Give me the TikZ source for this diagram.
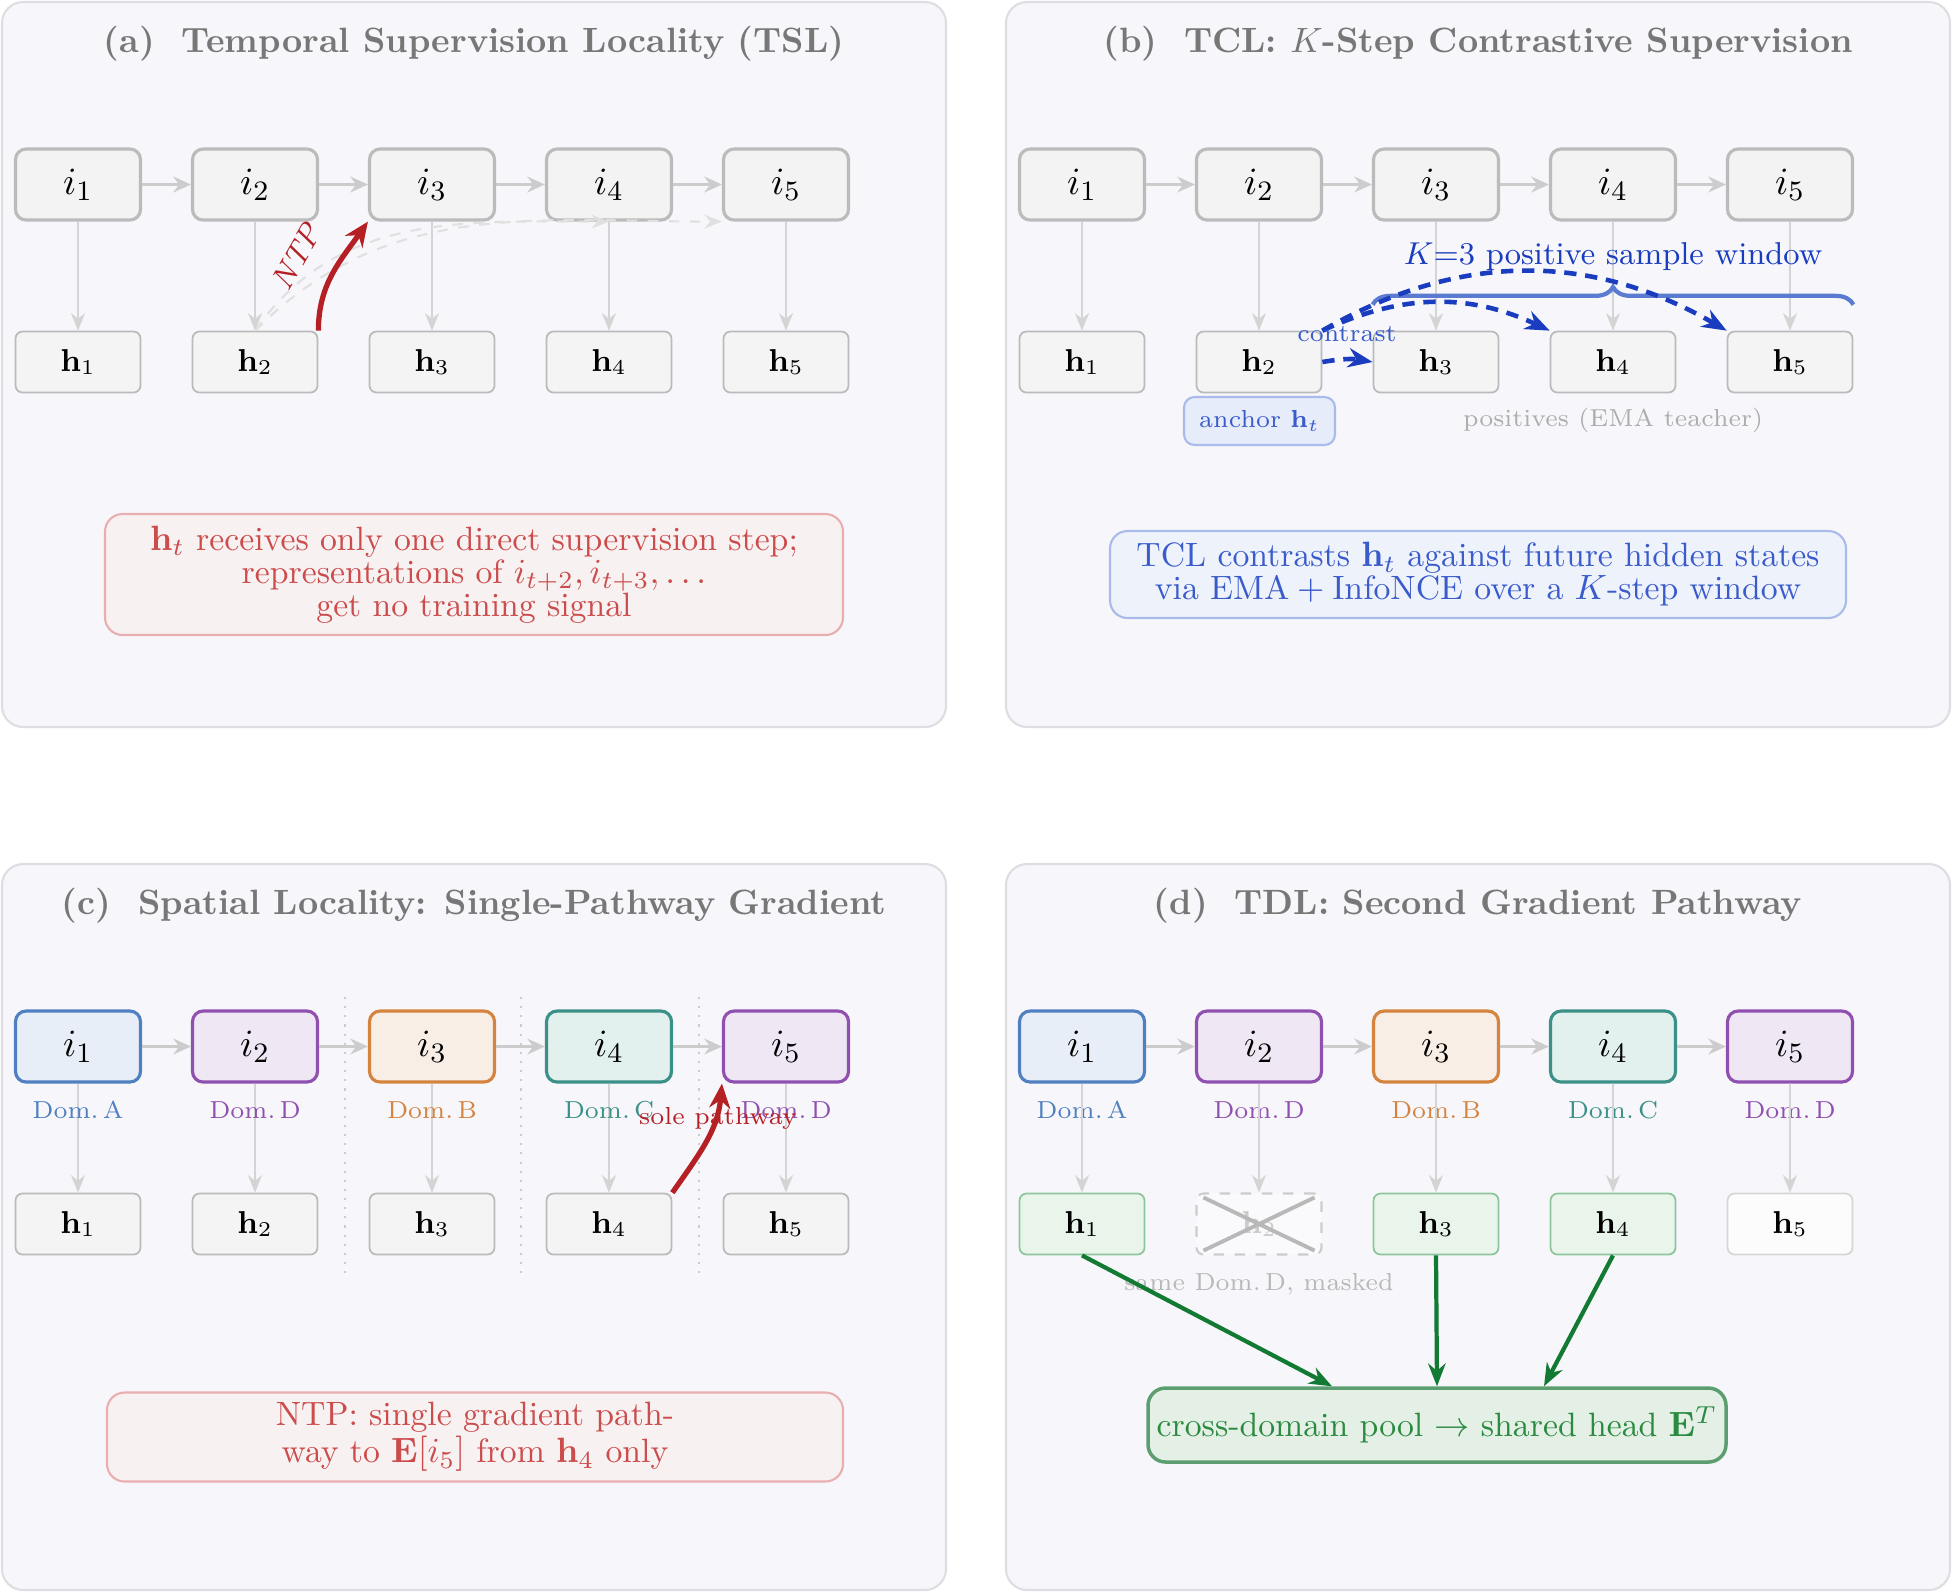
\documentclass[tikz,border=0pt]{standalone}
\usepackage{tikz}
\usetikzlibrary{arrows.meta,calc,decorations.pathreplacing}

\definecolor{panelbg}{HTML}{F7F7FB}
\definecolor{panelline}{HTML}{DEDEE2}
\definecolor{titlegray}{HTML}{777777}
\definecolor{boxline}{HTML}{BBBBBB}
\definecolor{boxfill}{HTML}{F3F3F3}
\definecolor{hfill}{HTML}{F4F4F4}
\definecolor{flowgray}{HTML}{CCCCCC}
\definecolor{ghostgray}{HTML}{E0E0E0}
\definecolor{softgray}{HTML}{ADADAD}
\definecolor{ntpred}{HTML}{B52025}
\definecolor{notered}{HTML}{CC4B4B}
\definecolor{notefill}{HTML}{F8F1F2}
\definecolor{noteline}{HTML}{E9AEB0}
\definecolor{tclblue}{HTML}{1A3CBF}
\definecolor{braceblue}{HTML}{5A7BD0}
\definecolor{textblue}{HTML}{3A5BCB}
\definecolor{bluefill}{HTML}{EEF2FB}
\definecolor{blueline}{HTML}{A9BBEA}
\definecolor{anchorfill}{HTML}{E6ECFA}
\definecolor{colA}{HTML}{5080C0}
\definecolor{fillA}{HTML}{E7EEF7}
\definecolor{colB}{HTML}{D4843F}
\definecolor{fillB}{HTML}{F8EEE6}
\definecolor{colC}{HTML}{3B9088}
\definecolor{fillC}{HTML}{E2F0EE}
\definecolor{colD}{HTML}{9050B0}
\definecolor{fillD}{HTML}{F0E7F4}
\definecolor{poolgreen}{HTML}{127A32}
\definecolor{pooltext}{HTML}{2A8A40}
\definecolor{poolline}{HTML}{5C9E70}
\definecolor{poolfill}{HTML}{E4F0E6}
\definecolor{hgreenfill}{HTML}{E9F4EB}
\definecolor{hgreenline}{HTML}{8DC59C}

\tikzset{
  panel/.style={draw=panelline, fill=panelbg, line width=0.6pt, rounded corners=6pt},
  paneltitle/.style={text=titlegray, font=\bfseries},
  ibox/.style={draw=boxline, fill=boxfill, line width=0.9pt, rounded corners=3pt,
    minimum width=1.25cm, minimum height=0.71cm, inner sep=0pt, font=\fontsize{11}{13}\selectfont},
  hbox/.style={draw=boxline, fill=hfill, line width=0.5pt, rounded corners=2pt,
    minimum width=1.25cm, minimum height=0.61cm, inner sep=0pt, font=\small},
  flow/.style={draw=flowgray, line width=0.8pt, -{Stealth[length=5pt,width=4.5pt]}},
  down/.style={draw=flowgray!85, line width=0.5pt, -{Stealth[length=5pt,width=4pt]}},
  ghost/.style={draw=ghostgray, line width=0.6pt, dashed, -{Stealth[length=5pt,width=4pt]}},
  ntp/.style={draw=ntpred, line width=1.5pt, -{Stealth[length=7pt,width=6pt]}},
  contrast/.style={draw=tclblue, line width=1.3pt, dash pattern=on 3.5pt off 2.5pt,
    -{Stealth[length=7pt,width=5.5pt]}},
  pathway/.style={draw=poolgreen, line width=1.2pt, -{Stealth[length=6.5pt,width=5pt]}},
  note/.style={rounded corners=5pt, line width=0.6pt, align=center, inner sep=0pt,
    font=\fontsize{9.6}{9.4}\selectfont},
  domlabel/.style={font=\scriptsize},
}

\begin{document}
\begin{tikzpicture}
  \useasboundingbox (0,0) rectangle (19.52,-15.92);

  \begin{scope}
    \draw[panel] (0.02,-0.02) rectangle (9.46,-7.27);
    \node[paneltitle] (a-title) at (4.74,-0.44) {(a)~~Temporal Supervision Locality (TSL)};
    \foreach \k in {1,...,5} {
      \node[ibox] (a-i\k) at ({0.78+1.77*(\k-1)},-1.845) {$i_{\k}$};
      \node[hbox] (a-h\k) at ({0.78+1.77*(\k-1)},-3.62) {$\mathbf{h}_{\k}$};
      \draw[down] (a-i\k) -- (a-h\k);
    }
    \foreach \k/\n in {1/2,2/3,3/4,4/5}
      \draw[flow] (a-i\k) -- (a-i\n);
    \draw[ghost] (a-h2.north) to[out=55,in=180] (a-i4.south);
    \draw[ghost] (a-h2.north) to[out=45,in=180] (a-i5.south west);
    \draw[ntp] (a-h2.north east) to[out=90,in=235] (a-i3.south west);
    \node[text=ntpred, font=\small\itshape, rotate=60] (a-ntp) at (2.96,-2.57) {NTP};
    \node[note, draw=noteline, fill=notefill, text=notered,
          minimum width=7.38cm, minimum height=1.21cm] (a-note) at (4.74,-5.745)
      {$\mathbf{h}_t$ receives only one direct supervision step;\\
       representations of $i_{t+2}, i_{t+3}, \ldots$\\
       get no training signal};
  \end{scope}

  \begin{scope}[shift={(10.04,0)}]
    \draw[panel] (0.02,-0.02) rectangle (9.46,-7.27);
    \node[paneltitle] (b-title) at (4.74,-0.44) {(b)~~TCL: $K$-Step Contrastive Supervision};
    \foreach \k in {1,...,5} {
      \node[ibox] (b-i\k) at ({0.78+1.77*(\k-1)},-1.845) {$i_{\k}$};
      \node[hbox] (b-h\k) at ({0.78+1.77*(\k-1)},-3.62) {$\mathbf{h}_{\k}$};
      \draw[down] (b-i\k) -- (b-h\k);
    }
    \foreach \k/\n in {1/2,2/3,3/4,4/5}
      \draw[flow] (b-i\k) -- (b-i\n);
    \draw[braceblue, line width=1.2pt, decorate, decoration={brace, amplitude=5pt}]
      ($(b-h3.north west)+(0,0.26)$) -- ($(b-h5.north east)+(0,0.26)$);
    \node[text=tclblue, font=\small] (b-win) at (6.09,-2.57) {$K{=}3$ positive sample window};
    \draw[contrast] (b-h2.east) to[bend left=10] (b-h3.west);
    \draw[contrast] (b-h2.north east) to[bend left=25] (b-h4.north west);
    \draw[contrast] (b-h2.north east) to[bend left=30] (b-h5.north west);
    \node[text=textblue, font=\scriptsize] (b-con) at (3.43,-3.34) {contrast};
    \node[draw=blueline, fill=anchorfill, text=textblue, font=\scriptsize, rounded corners=3pt,
          line width=0.6pt, minimum width=1.51cm, minimum height=0.48cm, inner sep=0pt]
      (b-anchor) at (2.555,-4.21) {anchor $\mathbf{h}_t$};
    \node[text=softgray, font=\scriptsize] (b-pos) at (6.09,-4.20) {positives (EMA teacher)};
    \node[note, draw=blueline, fill=bluefill, text=textblue,
          minimum width=7.36cm, minimum height=0.87cm] (b-note) at (4.74,-5.745)
      {TCL contrasts $\mathbf{h}_t$ against future hidden states\\
       via EMA${}+{}$InfoNCE over a $K$-step window};
  \end{scope}

  \begin{scope}[shift={(0,-8.62)}]
    \draw[panel] (0.02,-0.02) rectangle (9.46,-7.28);
    \node[paneltitle] (c-title) at (4.74,-0.44) {(c)~~Spatial Locality: Single-Pathway Gradient};
    \foreach \x in {3.45,5.21,6.99}
      \draw[flowgray, dotted, line width=0.6pt] (\x,-1.35) -- (\x,-4.15);
    \foreach \k/\d in {1/A,2/D,3/B,4/C,5/D} {
      \node[ibox, draw=col\d, fill=fill\d] (c-i\k) at ({0.78+1.77*(\k-1)},-1.845) {$i_{\k}$};
      \node[hbox] (c-h\k) at ({0.78+1.77*(\k-1)},-3.62) {$\mathbf{h}_{\k}$};
      \draw[down] (c-i\k) -- (c-h\k);
      \node[domlabel, text=col\d] (c-dom\k) at ({0.78+1.77*(\k-1)},-2.48) {Dom.\,\d};
    }
    \foreach \k/\n in {1/2,2/3,3/4,4/5}
      \draw[flow] (c-i\k) -- (c-i\n);
    \node[text=ntpred, font=\scriptsize] (c-sole) at (7.18,-2.56) {sole pathway};
    \draw[ntp] (c-h4.north east) to[out=55,in=265] (c-i5.south west);
    \node[note, draw=noteline, fill=notefill, text=notered,
          minimum width=7.36cm, minimum height=0.89cm] (c-note) at (4.75,-5.75)
      {NTP: single gradient path-\\
       way to $\mathbf{E}[i_5]$ from $\mathbf{h}_4$ only};
  \end{scope}

  \begin{scope}[shift={(10.04,-8.62)}]
    \draw[panel] (0.02,-0.02) rectangle (9.46,-7.28);
    \node[paneltitle] (d-title) at (4.74,-0.44) {(d)~~TDL: Second Gradient Pathway};
    \foreach \k/\d in {1/A,2/D,3/B,4/C,5/D} {
      \node[ibox, draw=col\d, fill=fill\d] (d-i\k) at ({0.78+1.77*(\k-1)},-1.845) {$i_{\k}$};
      \node[domlabel, text=col\d] (d-dom\k) at ({0.78+1.77*(\k-1)},-2.48) {Dom.\,\d};
    }
    \node[hbox, draw=hgreenline, fill=hgreenfill] (d-h1) at (0.78,-3.62) {$\mathbf{h}_1$};
    \node[hbox, draw=flowgray, dashed, line width=0.6pt, fill=panelbg!60!white, text=flowgray]
      (d-h2) at (2.55,-3.62) {$\mathbf{h}_2$};
    \node[hbox, draw=hgreenline, fill=hgreenfill] (d-h3) at (4.32,-3.62) {$\mathbf{h}_3$};
    \node[hbox, draw=hgreenline, fill=hgreenfill] (d-h4) at (6.09,-3.62) {$\mathbf{h}_4$};
    \node[hbox, draw=flowgray!80, fill=white!70!hfill] (d-h5) at (7.86,-3.62) {$\mathbf{h}_5$};
    \foreach \k in {1,...,5}
      \draw[down] (d-i\k) -- (d-h\k);
    \foreach \k/\n in {1/2,2/3,3/4,4/5}
      \draw[flow] (d-i\k) -- (d-i\n);
    \draw[flowgray!90!black, line width=1.1pt]
      ($(d-h2.north west)+(0.08,-0.05)$) -- ($(d-h2.south east)+(-0.08,0.05)$)
      ($(d-h2.south west)+(0.08,0.05)$) -- ($(d-h2.north east)+(-0.08,-0.05)$);
    \node[text=flowgray!90!black, font=\scriptsize] (d-mask) at (2.55,-4.225) {same Dom.\,D, masked};
    \node[draw=poolline, fill=poolfill, text=pooltext, line width=1pt, rounded corners=5pt,
          minimum width=5.78cm, minimum height=0.74cm, inner sep=0pt, font=\fontsize{9.6}{11}\selectfont]
      (d-pool) at (4.33,-5.63) {cross-domain pool $\to$ shared head $\mathbf{E}^T$};
    \draw[pathway] (d-h1.south) -- ($(d-pool.north)+(-1.05,0)$);
    \draw[pathway] (d-h3.south) -- (d-pool.north);
    \draw[pathway] (d-h4.south) -- ($(d-pool.north)+(1.07,0)$);
  \end{scope}
\end{tikzpicture}
\end{document}
